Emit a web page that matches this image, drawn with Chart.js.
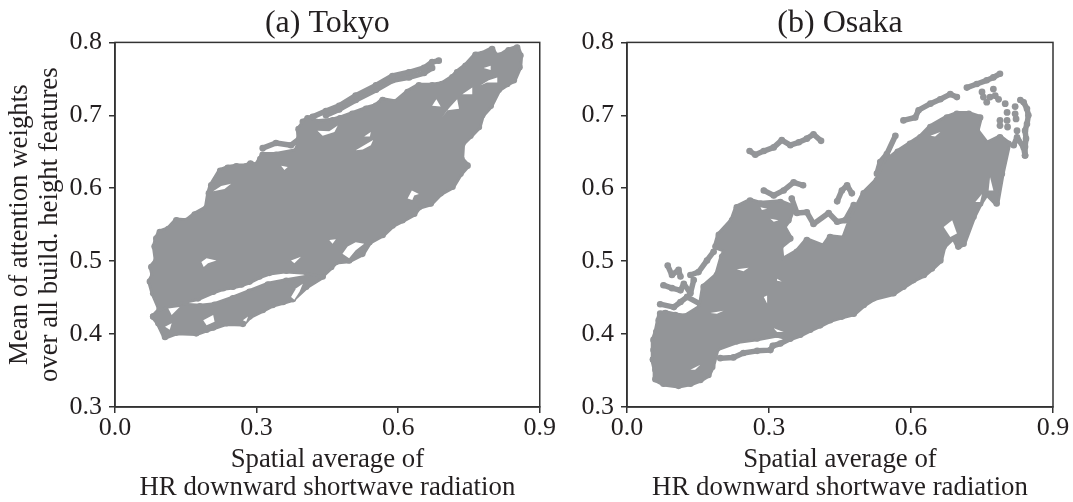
<!DOCTYPE html>
<html>
<head>
<meta charset="utf-8">
<script src="https://cdn.jsdelivr.net/npm/chart.js@4"></script>
<style>
  html, body { margin: 0; padding: 0; background: #fff; overflow: hidden; }
  canvas { position: absolute; top: 0; }
</style>
</head>
<body>
<canvas id="tokyo" style="left:0;width:556px;height:502px"></canvas>
<canvas id="osaka" style="left:540px;width:533px;height:502px"></canvas>
<script>
// axis ticks
const xTicks = [0.0, 0.3, 0.6, 0.9];
const yTicks = [0.3, 0.4, 0.5, 0.6, 0.7, 0.8];

// Tokyo: outline of the dense cloud, the lower band, white gaps inside them, loose strands on top
const tokyoMain = [[.088,.531],[.095,.540],[.113,.544],[.130,.556],[.151,.555],[.169,.564],[.194,.573],[.199,.593],
  [.204,.604],[.223,.624],[.239,.628],[.257,.630],[.278,.630],[.287,.634],[.299,.631],[.308,.640],[.313,.646],
  [.341,.646],[.384,.651],[.391,.663],[.389,.681],[.408,.696],[.426,.691],[.461,.693],[.477,.696],[.503,.702],
  [.532,.709],[.553,.713],[.567,.721],[.595,.718],[.620,.732],[.644,.741],[.672,.741],[.693,.743],[.715,.752],
  [.725,.759],[.743,.768],[.764,.783],[.778,.784],[.799,.791],[.806,.782],[.817,.782],[.834,.789],[.852,.793],
  [.859,.782],[.857,.766],[.845,.748],[.831,.743],[.813,.735],[.796,.713],[.778,.700],[.771,.684],[.753,.672],
  [.736,.661],[.734,.640],[.747,.631],[.732,.620],[.715,.602],[.690,.593],[.669,.579],[.644,.574],[.634,.565],
  [.609,.556],[.588,.549],[.567,.536],[.539,.526],[.524,.510],[.496,.501],[.468,.499],[.458,.492],[.440,.481],
  [.405,.485],[.363,.487],[.327,.484],[.306,.479],[.285,.472],[.268,.468],[.250,.465],[.229,.463],[.208,.458],
  [.176,.449],[.137,.444],[.095,.435],[.081,.456],[.074,.472],[.081,.481],[.077,.492],[.088,.501],[.084,.520]];
const tokyoLower = [[.081,.424],[.092,.415],[.106,.396],[.130,.402],[.172,.401],[.194,.406],[.208,.409],[.236,.415],
  [.271,.414],[.285,.424],[.313,.433],[.334,.440],[.356,.444],[.377,.448],[.405,.465],[.440,.479],[.419,.479],
  [.363,.473],[.324,.468],[.285,.458],[.250,.449],[.211,.440],[.180,.438],[.130,.440],[.095,.433]];
const tokyoGaps = [
  [[.183,.499],[.194,.504],[.215,.501],[.197,.497],[.188,.492]],
  [[.208,.596],[.225,.603],[.246,.606],[.232,.599]],
  [[.510,.652],[.528,.659],[.547,.666],[.542,.659],[.525,.653]],
  [[.528,.671],[.542,.677],[.540,.671]],
  [[.620,.586],[.629,.597],[.644,.592],[.634,.590],[.630,.584]],
  [[.429,.679],[.454,.678],[.472,.686],[.465,.677],[.440,.672]],
  [[.482,.510],[.493,.520],[.510,.526],[.528,.524],[.510,.515],[.496,.504]],
  [[.672,.713],[.681,.722],[.690,.712]],
  [[.693,.697],[.708,.710],[.725,.722],[.729,.709],[.704,.707]],
  [[.736,.729],[.757,.738],[.757,.729]],
  [[.774,.741],[.792,.748],[.810,.752],[.810,.745],[.788,.745]],
  [[.781,.765],[.796,.768],[.796,.762]],
  [[.373,.501],[.394,.506],[.380,.497]],
  [[.454,.529],[.468,.530],[.461,.524]],
  [[.352,.631],[.366,.629],[.359,.625]],
  [[.373,.451],[.384,.463],[.398,.469],[.391,.458],[.380,.447]],
  [[.187,.419],[.208,.426],[.211,.417],[.194,.412]],
  [[.106,.410],[.120,.415],[.116,.406]],
  [[.113,.435],[.137,.437],[.120,.426]],
  [[.271,.419],[.282,.424],[.278,.417]],
];
const tokyoTop = [[.398,.691],[.419,.698],[.447,.706],[.475,.713],[.510,.727],[.553,.741],[.588,.754],[.623,.759],
  [.655,.765],[.672,.773],[.686,.775]];
const tokyoTop2 = [[.447,.700],[.475,.708],[.510,.721],[.553,.735],[.588,.748],[.623,.752],[.655,.758],[.672,.765]];
const tokyoMid = [[.313,.655],[.341,.662],[.373,.659],[.391,.668]];

// Osaka: dense cloud, then the separate strands around it
const osakaMain = [[.055,.365],[.056,.378],[.056,.392],[.062,.403],[.067,.419],[.070,.428],[.081,.429],[.102,.426],
  [.123,.424],[.155,.437],[.162,.465],[.190,.481],
  [.201,.506],[.208,.515],[.187,.520],[.194,.536],[.222,.556],[.232,.574],[.260,.583],[.282,.579],[.324,.581],
  [.352,.574],[.341,.556],[.331,.547],[.345,.531],[.324,.520],[.327,.501],[.359,.513],[.380,.529],[.415,.520],
  [.429,.533],[.458,.531],[.472,.556],[.500,.593],[.528,.611],[.549,.638],[.572,.650],[.598,.661],[.620,.670],
  [.641,.684],[.676,.697],[.697,.702],[.722,.702],[.746,.697],[.739,.679],[.760,.661],[.788,.670],[.806,.661],
  [.792,.620],[.781,.579],[.760,.593],[.746,.579],[.732,.561],[.711,.524],[.700,.520],[.690,.533],[.669,.520],
  [.662,.501],[.644,.490],[.627,.481],[.605,.474],[.584,.465],[.563,.456],[.521,.449],[.500,.440],[.479,.428],
  [.454,.424],[.429,.419],[.408,.412],[.387,.406],[.366,.399],[.345,.394],[.317,.399],[.275,.394],[.232,.390],
  [.190,.380],[.180,.355],[.172,.344],[.155,.337],[.134,.332],[.109,.329],[.077,.332],[.060,.338],[.060,.351]];
const osakaGaps = [
  [[.232,.489],[.257,.491],[.246,.486]],
  [[.317,.476],[.327,.472],[.317,.473]],
  [[.289,.451],[.296,.453],[.296,.442]],
  [[.669,.547],[.687,.556],[.697,.538],[.683,.533]],
  [[.736,.581],[.750,.592],[.746,.581]],
  [[.134,.351],[.155,.358],[.144,.351]],
  [[.310,.408],[.331,.403],[.317,.403]],
  [[.641,.672],[.662,.677],[.651,.671]],
  [[.176,.429],[.204,.432],[.190,.428]],
  [[.282,.574],[.296,.572],[.285,.570]],
  [[.303,.558],[.320,.556],[.310,.554]],
  [[.767,.615],[.774,.597],[.764,.597]],
];
const osakaLow = [[.197,.367],[.225,.368],[.246,.374],[.275,.377],[.303,.378],[.308,.384],[.324,.387],[.345,.394]];
const osakaA = [[.259,.651],[.271,.646],[.289,.651],[.310,.656],[.327,.666],[.345,.659],[.363,.663],[.380,.668],[.394,.674],[.410,.665]];
const osakaB = [[.718,.738],[.739,.743],[.760,.748],[.774,.752],[.788,.757]];
const osakaC = [[.584,.693],[.609,.697],[.616,.707],[.641,.716],[.662,.722],[.683,.729],[.697,.725]];
const osakaDots = [[.750,.732],[.753,.725],[.760,.718],[.767,.725],[.774,.736],[.778,.727],[.785,.722],[.799,.716],
  [.803,.704],[.803,.693],[.788,.693],[.788,.686],[.804,.684],[.824,.679],[.820,.702],[.822,.695],[.820,.712]];
const osakaE = [[.831,.721],[.838,.718],[.845,.709],[.848,.700],[.845,.688],[.841,.679],[.843,.668],[.841,.657],[.841,.645]];
const osakaF = [[.817,.659],[.824,.670],[.838,.656],[.841,.645]];
const osakaG = [[.444,.582],[.454,.597],[.465,.604],[.475,.593]];
const osakaH = [[.289,.597],[.310,.590],[.331,.597],[.352,.608],[.372,.604]];
const osakaI = [[.348,.586],[.359,.566],[.380,.567],[.394,.551],[.426,.566],[.444,.554],[.461,.556],[.479,.577]];
const osakaJ = [[.086,.494],[.095,.481],[.109,.488],[.113,.479]];
const osakaK = [[.134,.481],[.151,.485],[.169,.501],[.183,.513]];
const osakaL = [[.077,.467],[.095,.463],[.113,.460],[.120,.469],[.134,.456],[.141,.474]];
const osakaM = [[.070,.441],[.099,.437],[.113,.444],[.127,.451],[.155,.441]];
const osakaN = [[.528,.620],[.535,.636],[.549,.647],[.567,.672]];

const GREY = "#939598";
const INK = "#231f20";
const SERIF = "'Liberation Serif', 'Times New Roman', serif";

function toPoints(pairs) {
  return pairs.map((p) => ({ x: p[0], y: p[1] }));
}

function closed(pairs) {
  return pairs.concat([pairs[0]]);
}

// filled body of a cloud, or a white gap in it
function area(pairs, colour) {
  return {
    data: toPoints(closed(pairs)),
    showLine: true,
    fill: "shape",
    backgroundColor: colour,
    borderWidth: 0,
    pointRadius: 0,
    tension: 0,
  };
}

// a run of overlapping dots
function strand(pairs) {
  return {
    data: toPoints(pairs),
    showLine: true,
    borderColor: GREY,
    borderWidth: 5.5,
    borderCapStyle: "round",
    borderJoinStyle: "round",
    pointRadius: 3.3,
    pointBackgroundColor: GREY,
    pointBorderWidth: 0,
    tension: 0,
  };
}

function dots(pairs) {
  return {
    data: toPoints(pairs),
    showLine: false,
    pointRadius: 3.4,
    pointBackgroundColor: GREY,
    pointBorderWidth: 0,
  };
}

// top and right spines
const framePlugin = {
  id: "frame",
  afterDraw(chart) {
    const a = chart.chartArea;
    const ctx = chart.ctx;
    ctx.save();
    ctx.strokeStyle = "#333";
    ctx.lineWidth = 1.5;
    ctx.strokeRect(a.left, a.top, a.right - a.left, a.bottom - a.top);
    ctx.restore();
  },
};

function makePanel(id, titleText, datasets, yTitle, yWidth, rightPad) {
  new Chart(document.getElementById(id), {
    type: "scatter",
    data: { datasets },
    plugins: [framePlugin],
    options: {
      responsive: false,
      animation: false,
      devicePixelRatio: 1,
      layout: { padding: { top: 0, right: rightPad, bottom: 0, left: 0 } },
      plugins: {
        legend: { display: false },
        tooltip: { enabled: false },
        title: {
          display: true,
          text: titleText,
          fullSize: false,
          color: INK,
          font: { family: SERIF, size: 32, weight: "normal", lineHeight: 1.2 },
          padding: { top: 4, bottom: 0 },
        },
      },
      scales: {
        x: {
          type: "linear",
          min: 0,
          max: 0.9,
          afterBuildTicks(scale) { scale.ticks = xTicks.map((v) => ({ value: v })); },
          afterFit(scale) { scale.height = 95; },
          grid: { drawOnChartArea: false, tickLength: 6, color: "#333", lineWidth: 1.5 },
          border: { color: "#333", width: 1.5 },
          ticks: {
            color: INK,
            maxRotation: 0,
            padding: 0,
            font: { family: SERIF, size: 26 },
            callback: (v) => v.toFixed(1),
          },
          title: {
            display: true,
            text: ["Spatial average of", "HR downward shortwave radiation"],
            color: INK,
            padding: { top: 0, bottom: 0 },
            font: { family: SERIF, size: 26.8, lineHeight: 1.04 },
          },
        },
        y: {
          type: "linear",
          min: 0.3,
          max: 0.8,
          afterBuildTicks(scale) { scale.ticks = yTicks.map((v) => ({ value: v })); },
          afterFit(scale) { scale.width = yWidth; },
          grid: { drawOnChartArea: false, tickLength: 6, color: "#333", lineWidth: 1.5 },
          border: { color: "#333", width: 1.5 },
          ticks: {
            color: INK,
            padding: 7,
            font: { family: SERIF, size: 26 },
            callback: (v) => v.toFixed(1),
          },
          title: {
            display: !!yTitle,
            text: yTitle,
            color: INK,
            padding: { top: 5, bottom: 0 },
            font: { family: SERIF, size: 26.8, lineHeight: 1.12 },
          },
        },
      },
    },
  });
}

document.getElementById("tokyo").width = 556;
document.getElementById("tokyo").height = 502;
document.getElementById("osaka").width = 533;
document.getElementById("osaka").height = 502;

// chart.js paints the first dataset last, so the white gaps go first
makePanel("tokyo", "(a) Tokyo",
  [...tokyoGaps.map((g) => area(g, "#fff")),
   area(tokyoMain, GREY), strand(closed(tokyoMain)),
   area(tokyoLower, GREY), strand(closed(tokyoLower)),
   strand(tokyoTop), strand(tokyoTop2), strand(tokyoMid)],
  ["Mean of attention weights", "over all build. height features"], 115, 15);

makePanel("osaka", "(b) Osaka",
  [...osakaGaps.map((g) => area(g, "#fff")),
   area(osakaMain, GREY), strand(closed(osakaMain)),
   strand(osakaLow), strand(osakaA), strand(osakaB), strand(osakaC), dots(osakaDots),
   strand(osakaE), strand(osakaF), strand(osakaG), strand(osakaH), strand(osakaI), strand(osakaJ),
   strand(osakaK), strand(osakaL), strand(osakaM), strand(osakaN)],
  null, 87, 20);
</script>
</body>
</html>
